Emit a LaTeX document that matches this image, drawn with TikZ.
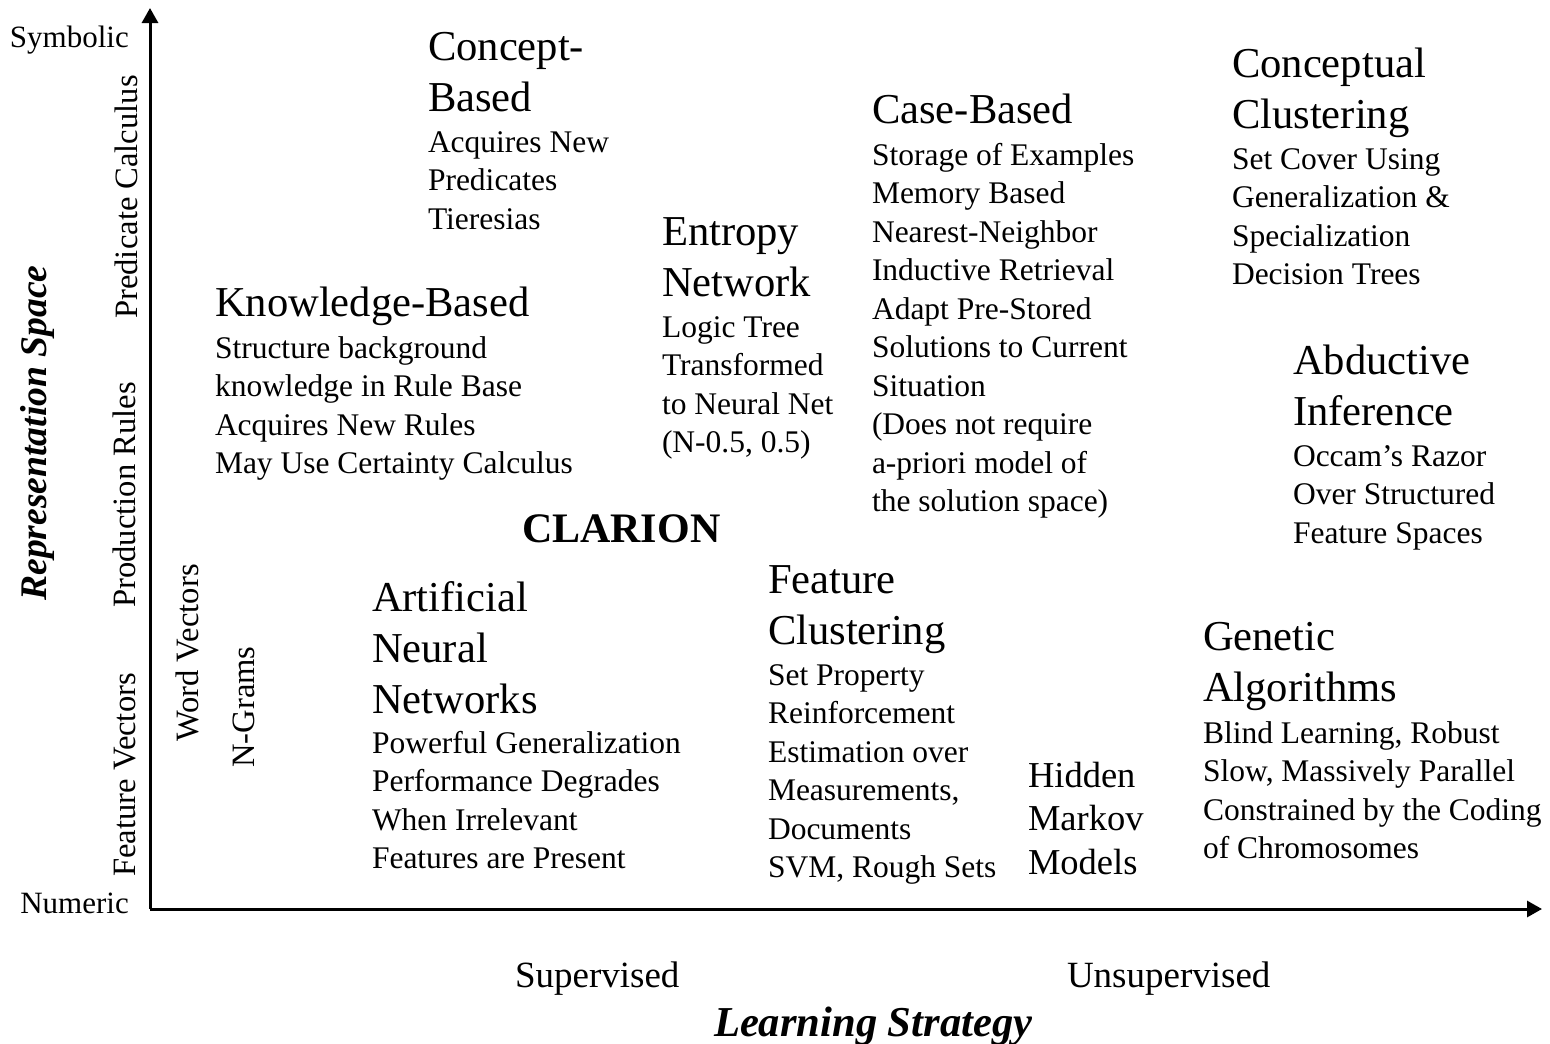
\documentclass[tikz,border=0pt]{standalone}
\usepackage{fontspec}
\setmainfont{Liberation Serif}
\usetikzlibrary{arrows.meta}
\newcommand\tline[1]{\hbox{#1}}
\tikzset{
  txt/.style={anchor=base west, inner sep=0pt, outer sep=0pt},
  body/.style={txt, font=\fontsize{31.5}{38.5}\selectfont},
  ttl/.style={txt, font=\fontsize{42.6}{51}\selectfont},
  hmm/.style={txt, font=\fontsize{36.5}{43.5}\selectfont},
  axlbl/.style={anchor=base east, inner sep=0pt, font=\fontsize{31}{37}\selectfont},
  vlbl/.style={anchor=base, rotate=90, inner sep=0pt, font=\fontsize{32.6}{38}\selectfont},
  strat/.style={txt, font=\fontsize{37}{44}\selectfont},
  axis/.style={line width=3pt, -{Triangle[length=15pt,width=16pt]}},
}
\begin{document}
\begin{tikzpicture}[x=1pt,y=-1pt]
\useasboundingbox (0,0) rectangle (1550,1044);

% axes
\coordinate (O) at (150,909);
\coordinate (ytip) at (150,8);
\coordinate (xtip) at (1542,909);
\draw[axis] (O) -- (ytip);
\draw[axis] (O) -- (xtip);

% axis end labels
\node[axlbl] (sym) at (129,47) {Symbolic};
\node[axlbl] (num) at (129,913) {Numeric};

% vertical scale labels
\node[vlbl] (pred) at (137,197) {Predicate Calculus};
\node[vlbl] (prod) at (135,495) {Production Rules};
\node[vlbl] (fvec) at (135,775) {Feature Vectors};
\node[vlbl] (wvec) at (198,653) {Word Vectors};
\node[vlbl] (ngr) at (254,707) {N-Grams};
\node[anchor=base, rotate=90, inner sep=0pt, font=\fontsize{37.6}{44}\selectfont\bfseries\itshape] (rep) at (46,433) {Representation Space};

% bottom labels
\node[strat] (sup) at (515,987) {Supervised};
\node[strat] (unsup) at (1067,987) {Unsupervised};
\node[txt, font=\fontsize{42.6}{51}\selectfont\bfseries\itshape] (ls) at (714,1036) {Learning Strategy};

% Concept-Based
\node[ttl] (cbT) at (428,60) {\vtop{\tline{Concept-}\tline{Based}}};
\node[body] (cbB) at (428,152) {\vtop{\tline{Acquires New}\tline{Predicates}\tline{Tieresias}}};

% Knowledge-Based
\node[ttl] (kbT) at (215,316) {Knowledge-Based};
\node[body] (kbB) at (215,358) {\vtop{\tline{Structure background}\tline{knowledge in Rule Base}\tline{Acquires New Rules}\tline{May Use Certainty Calculus}}};

% Entropy Network
\node[ttl] (enT) at (662,245) {\vtop{\tline{Entropy}\tline{Network}}};
\node[body] (enB) at (662,337) {\vtop{\tline{Logic Tree}\tline{Transformed}\tline{to Neural Net}\tline{(N-0.5, 0.5)}}};

% Case-Based
\node[ttl] (caT) at (872,123) {Case-Based};
\node[body] (caB) at (872,165) {\vtop{\tline{Storage of Examples}\tline{Memory Based}\tline{Nearest-Neighbor}\tline{Inductive Retrieval}\tline{Adapt Pre-Stored}\tline{Solutions to Current}\tline{Situation}\tline{(Does not require}\tline{a-priori model of}\tline{the solution space)}}};

% Conceptual Clustering
\node[ttl] (ccT) at (1232,77) {\vtop{\tline{Conceptual}\tline{Clustering}}};
\node[body] (ccB) at (1232,169) {\vtop{\tline{Set Cover Using}\tline{Generalization \&}\tline{Specialization}\tline{Decision Trees}}};

% Abductive Inference
\node[ttl] (abT) at (1293,374) {\vtop{\tline{Abductive}\tline{Inference}}};
\node[body] (abB) at (1293,466) {\vtop{\tline{Occam’s Razor}\tline{Over Structured}\tline{Feature Spaces}}};

% CLARION
\node[txt, font=\fontsize{42}{50}\selectfont\bfseries] (clar) at (522,542) {CLARION};

% Artificial Neural Networks
\node[ttl] (annT) at (372,611) {\vtop{\tline{Artificial}\tline{Neural}\tline{Networks}}};
\node[body] (annB) at (372,753) {\vtop{\tline{Powerful Generalization}\tline{Performance Degrades}\tline{When Irrelevant}\tline{Features are Present}}};

% Feature Clustering
\node[ttl] (fcT) at (768,593) {\vtop{\tline{Feature}\tline{Clustering}}};
\node[body] (fcB) at (768,685) {\vtop{\tline{Set Property}\tline{Reinforcement}\tline{Estimation over}\tline{Measurements,}\tline{Documents}\tline{SVM, Rough Sets}}};

% Hidden Markov Models
\node[hmm] (hmmT) at (1028,787) {\vtop{\tline{Hidden}\tline{Markov}\tline{Models}}};

% Genetic Algorithms
\node[ttl] (gaT) at (1203,650) {\vtop{\tline{Genetic}\tline{Algorithms}}};
\node[body] (gaB) at (1203,743) {\vtop{\tline{Blind Learning, Robust}\tline{Slow, Massively Parallel}\tline{Constrained by the Coding}\tline{of Chromosomes}}};
\end{tikzpicture}
\end{document}
